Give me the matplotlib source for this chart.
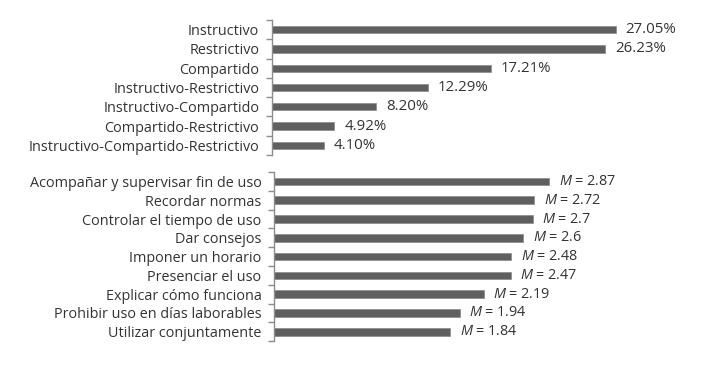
import matplotlib.pyplot as plt
import numpy as np

# Data
estilos = ["Instructivo", "Restrictivo", "Compartido", "Instructivo-Restrictivo",
           "Instructivo-Compartido", "Compartido-Restrictivo",
           "Instructivo-Compartido-Restrictivo"]
estilos_pct = [27.05, 26.23, 17.21, 12.29, 8.20, 4.92, 4.10]

acciones = ["Acompañar y supervisar fin de uso", "Recordar normas",
            "Controlar el tiempo de uso", "Dar consejos", "Imponer un horario",
            "Presenciar el uso", "Explicar cómo funciona",
            "Prohibir uso en días laborables", "Utilizar conjuntamente"]
acciones_m = [2.87, 2.72, 2.7, 2.6, 2.48, 2.47, 2.19, 1.94, 1.84]
acciones_txt = ["2.87", "2.72", "2.7", "2.6", "2.48", "2.47", "2.19", "1.94", "1.84"]

plt.rcParams['font.family'] = ['Open Sans', 'DejaVu Sans']
plt.rcParams['mathtext.fontset'] = 'custom'
plt.rcParams['mathtext.it'] = 'Open Sans:italic'
plt.rcParams['mathtext.rm'] = 'Open Sans'

BAR = '#5f5f5f'
TXT = '#333333'
AX = '#8c8c8c'
FS = 10.4

fig = plt.figure(figsize=(7.08, 3.70), dpi=100)
ax1 = fig.add_axes([0.384, 0.581, 0.6, 0.365])
ax2 = fig.add_axes([0.387, 0.078, 0.6, 0.457])


def style(ax, labels, xmax):
    n = len(labels)
    ax.set_xlim(0, xmax)
    ax.set_ylim(n - 0.5, -0.5)
    for s in ['top', 'right', 'bottom']:
        ax.spines[s].set_visible(False)
    ax.spines['left'].set_color(AX)
    ax.spines['left'].set_linewidth(1.0)
    ax.set_xticks([])
    ax.set_yticks(np.arange(n))
    ax.set_yticklabels(labels, fontsize=FS, color=TXT)
    ax.set_yticks(np.arange(n + 1) - 0.5, minor=True)
    ax.tick_params(axis='y', which='major', length=0, pad=9)
    ax.tick_params(axis='y', which='minor', length=4, width=1, color=AX)


y1 = np.arange(len(estilos))
bars1 = ax1.barh(y1, estilos_pct, height=0.38, color=BAR, edgecolor='#8a8a8a', linewidth=0.5)
style(ax1, estilos, 425 / 12.72)
ax1.bar_label(bars1, labels=[f"{v:.2f}%" for v in estilos_pct], padding=7,
              fontsize=10.8, color=TXT)

y2 = np.arange(len(acciones))
bars2 = ax2.barh(y2, acciones_m, height=0.4, color=BAR, edgecolor='#8a8a8a', linewidth=0.5)
style(ax2, acciones, 425 / 95.8)
ax2.bar_label(bars2, labels=[f"$M$ = {t}" for t in acciones_txt], padding=7,
              fontsize=FS, color=TXT)

fig.savefig("out.png", dpi=100)
